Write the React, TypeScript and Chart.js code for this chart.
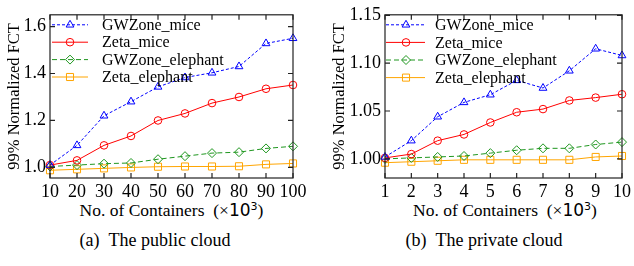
import React, { useEffect, useRef } from 'react';
import { Chart, registerables } from 'chart.js';

Chart.register(...registerables);

// ---------- data ----------
const seriesNames = ['GWZone_mice', 'Zeta_mice', 'GWZone_elephant', 'Zeta_elephant'];

const publicContainers = [10, 20, 30, 40, 50, 60, 70, 80, 90, 100];
const publicGWZoneMice = [1.01, 1.094, 1.22, 1.28, 1.343, 1.383, 1.403, 1.43, 1.528, 1.55];
const publicZetaMice = [1.01, 1.03, 1.094, 1.134, 1.2, 1.23, 1.274, 1.3, 1.335, 1.351];
const publicGWZoneElephant = [1.004, 1.01, 1.016, 1.019, 1.035, 1.048, 1.061, 1.065, 1.081, 1.09];
const publicZetaElephant = [0.988, 0.992, 0.996, 1.0, 1.003, 1.004, 1.004, 1.005, 1.013, 1.017];
const publicYTicks = [1.0, 1.2, 1.4, 1.6];

const privateContainers = [1, 2, 3, 4, 5, 6, 7, 8, 9, 10];
const privateGWZoneMice = [1.002, 1.019, 1.044, 1.059, 1.067, 1.082, 1.074, 1.092, 1.115, 1.108];
const privateZetaMice = [1.001, 1.005, 1.019, 1.0255, 1.038, 1.0487, 1.052, 1.061, 1.064, 1.0675];
const privateGWZoneElephant = [1.0, 1.001, 1.002, 1.003, 1.006, 1.009, 1.011, 1.011, 1.015, 1.0175];
const privateZetaElephant = [0.996, 0.997, 0.998, 0.999, 0.999, 0.999, 0.999, 0.999, 1.002, 1.003];
const privateYTicks = [1.0, 1.05, 1.1, 1.15];

const yTitle = '99% Normalized FCT';

// ---------- styles ----------
const SERIF = "'Times New Roman', 'Liberation Serif', Tinos, 'DejaVu Serif', serif";
const STYLES = [
  { color: '#0000ff', dash: [3, 2], point: 'triangle', radius: 4.5 },
  { color: '#ff0000', dash: [], point: 'circle', radius: 3.8 },
  { color: '#1e961e', dash: [5, 3], point: 'rectRot', radius: 4.5 },
  { color: '#ffa500', dash: [], point: 'rect', radius: 5 },
];

function drawMarker(ctx: CanvasRenderingContext2D, style: string, x: number, y: number, r: number) {
  ctx.beginPath();
  if (style === 'circle') {
    ctx.arc(x, y, r, 0, Math.PI * 2);
  } else if (style === 'triangle') {
    let a = 0;
    ctx.moveTo(x + Math.sin(a) * r, y - Math.cos(a) * r);
    a += (2 * Math.PI) / 3;
    ctx.lineTo(x + Math.sin(a) * r, y - Math.cos(a) * r);
    a += (2 * Math.PI) / 3;
    ctx.lineTo(x + Math.sin(a) * r, y - Math.cos(a) * r);
    ctx.closePath();
  } else if (style === 'rectRot') {
    ctx.moveTo(x, y - r);
    ctx.lineTo(x + r, y);
    ctx.lineTo(x, y + r);
    ctx.lineTo(x - r, y);
    ctx.closePath();
  } else {
    const s = r * Math.SQRT1_2;
    ctx.rect(x - s, y - s, 2 * s, 2 * s);
  }
  ctx.stroke();
}

const framePlugin = {
  id: 'frame',
  afterDatasetsDraw(chart: any, _args: any, opts: any) {
    const { ctx, chartArea } = chart;
    const { left, right, top, bottom } = chartArea;
    const xs = chart.scales.x;
    const ys = chart.scales.y;
    ctx.save();
    ctx.setLineDash([]);
    ctx.strokeStyle = '#222';
    ctx.lineWidth = 1.2;
    ctx.strokeRect(left, top, right - left, bottom - top);
    const L = 5;
    ctx.beginPath();
    xs.ticks.forEach((t: any) => {
      const px = xs.getPixelForValue(t.value);
      ctx.moveTo(px, bottom);
      ctx.lineTo(px, bottom - L);
      ctx.moveTo(px, top);
      ctx.lineTo(px, top + L);
    });
    ys.ticks.forEach((t: any) => {
      const py = ys.getPixelForValue(t.value);
      ctx.moveTo(left, py);
      ctx.lineTo(left + L, py);
      ctx.moveTo(right, py);
      ctx.lineTo(right - L, py);
    });
    ctx.stroke();

    // legend
    chart.data.datasets.forEach((ds: any, i: number) => {
      const st = STYLES[i];
      const yy = top + opts.rowStart + i * opts.rowGap;
      ctx.strokeStyle = st.color;
      ctx.lineWidth = 1;
      ctx.setLineDash(st.dash);
      ctx.beginPath();
      ctx.moveTo(left + opts.lineStart, yy);
      ctx.lineTo(left + opts.lineEnd, yy);
      ctx.stroke();
      ctx.setLineDash([]);
      drawMarker(ctx, st.point, left + opts.markerX, yy, st.radius);
      ctx.fillStyle = '#000';
      ctx.font = `16px ${SERIF}`;
      ctx.textBaseline = 'middle';
      ctx.textAlign = 'left';
      ctx.fillText(ds.label, left + opts.textX, yy + 1);
    });
    ctx.restore();
  },
};

interface PanelProps {
  xs: number[];
  series: number[][];
  yTicks: number[];
  yMin: number;
  yMax: number;
  decimals: number;
  yAxisWidth: number;
  titlePad: number;
  padTop: number;
  padRight: number;
  legend: any;
}

function Panel(p: PanelProps) {
  const ref = useRef<HTMLCanvasElement | null>(null);
  useEffect(() => {
    if (!ref.current) return;
    const chart = new Chart(ref.current, {
      type: 'line',
      data: {
        datasets: p.series.map((vals, i) => ({
          label: seriesNames[i],
          data: vals.map((v, j) => ({ x: p.xs[j], y: v })),
          borderColor: STYLES[i].color,
          borderWidth: 1,
          borderDash: STYLES[i].dash,
          pointStyle: STYLES[i].point as any,
          pointRadius: STYLES[i].radius,
          pointBorderColor: STYLES[i].color,
          pointBackgroundColor: 'rgba(255,255,255,0)',
          pointBorderWidth: 1,
          fill: false,
          tension: 0,
          clip: false as any,
        })),
      },
      options: {
        animation: false,
        responsive: false,
        devicePixelRatio: 1,
        layout: { padding: { top: p.padTop, right: p.padRight, left: 0, bottom: 0 } },
        plugins: {
          legend: { display: false },
          tooltip: { enabled: false },
          frame: p.legend,
        } as any,
        scales: {
          x: {
            type: 'linear',
            min: p.xs[0],
            max: p.xs[p.xs.length - 1],
            afterBuildTicks: (s: any) => {
              s.ticks = p.xs.map((v) => ({ value: v }));
            },
            afterFit: (s: any) => {
              s.height = 22;
            },
            grid: { display: false, drawTicks: false },
            border: { display: false },
            ticks: {
              color: '#000',
              padding: 3,
              maxRotation: 0,
              autoSkip: false,
              font: { family: SERIF, size: 18 },
              callback: (v: any) => String(v),
            },
          },
          y: {
            type: 'linear',
            min: p.yMin,
            max: p.yMax,
            afterBuildTicks: (s: any) => {
              s.ticks = p.yTicks.map((v) => ({ value: v }));
            },
            afterFit: (s: any) => {
              s.width = p.yAxisWidth;
            },
            grid: { display: false, drawTicks: false },
            border: { display: false },
            ticks: {
              color: '#000',
              padding: 4,
              font: { family: SERIF, size: 18 },
              callback: (v: any) => Number(v).toFixed(p.decimals),
            },
            title: {
              display: true,
              text: yTitle,
              color: '#000',
              font: { family: SERIF, size: 16.5 },
              padding: { top: p.titlePad, bottom: 0 },
            },
          },
        },
      },
      plugins: [framePlugin],
    });
    return () => chart.destroy();
  }, []);
  return <canvas ref={ref} width={317} height={200} style={{ display: 'block' }} />;
}

function XTitle() {
  return (
    <span>
      No. of Containers&nbsp;&nbsp;(×
      <span style={{ fontFamily: '"DejaVu Sans", sans-serif', fontSize: 17 }}>
        10<sup style={{ fontSize: 11, verticalAlign: 'top', position: 'relative', top: -3 }}>3</sup>
      </span>
      )
    </span>
  );
}

export default function App() {
  const textBase: React.CSSProperties = {
    position: 'absolute',
    fontFamily: SERIF,
    color: '#000',
    textAlign: 'center',
    whiteSpace: 'nowrap',
    lineHeight: '20px',
  };
  return (
    <div style={{ position: 'fixed', left: 0, top: 0, width: 634, height: 266, background: '#fff', overflow: 'hidden' }}>
      <div style={{ position: 'absolute', left: 0, top: 0 }}>
        <Panel
          xs={publicContainers}
          series={[publicGWZoneMice, publicZetaMice, publicGWZoneElephant, publicZetaElephant]}
          yTicks={publicYTicks}
          yMin={0.955}
          yMax={1.65}
          decimals={1}
          yAxisWidth={50}
          titlePad={5}
          padTop={5}
          padRight={24}
          legend={{ rowStart: 10, rowGap: 17.4, lineStart: 2, lineEnd: 38, markerX: 20, textX: 52 }}
        />
      </div>
      <div style={{ position: 'absolute', left: 317, top: 0 }}>
        <Panel
          xs={privateContainers}
          series={[privateGWZoneMice, privateZetaMice, privateGWZoneElephant, privateZetaElephant]}
          yTicks={privateYTicks}
          yMin={0.98}
          yMax={1.1505}
          decimals={2}
          yAxisWidth={68}
          titlePad={13}
          padTop={7}
          padRight={9}
          legend={{ rowStart: 10, rowGap: 17.6, lineStart: 1, lineEnd: 40, markerX: 21, textX: 50 }}
        />
      </div>
      <div style={{ ...textBase, left: 50, width: 243, top: 200, fontSize: 17.5 }}>
        <XTitle />
      </div>
      <div style={{ ...textBase, left: 385, width: 240, top: 200, fontSize: 17.5 }}>
        <XTitle />
      </div>
      <div style={{ ...textBase, left: 55, width: 200, top: 230, fontSize: 18 }}>(a)&nbsp;&nbsp;The public cloud</div>
      <div style={{ ...textBase, left: 384, width: 200, top: 230, fontSize: 18 }}>(b)&nbsp;&nbsp;The private cloud</div>
    </div>
  );
}
